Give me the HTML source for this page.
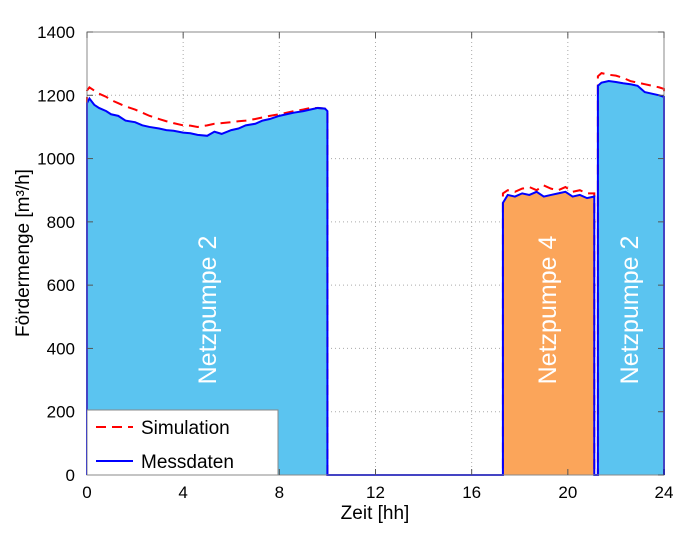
<!DOCTYPE html>
<html><head><meta charset="utf-8"><style>
body{margin:0;background:#fff;}
svg{display:block;font-family:"Liberation Sans",Arial,sans-serif;}
</style></head><body>
<svg id="c" width="677" height="540" viewBox="0 0 677 540"></svg>
<script>
const seg1T=[0,0.1,0.3,0.5,0.8,1,1.3,1.6,2,2.3,2.6,3,3.3,3.6,4,4.3,4.6,5,5.3,5.6,6,6.3,6.6,7,7.3,7.6,8,8.3,8.6,9,9.3,9.6,9.9,10.0];
const seg1M=[1175,1190,1170,1160,1150,1140,1135,1120,1115,1105,1100,1095,1090,1088,1082,1080,1075,1072,1085,1078,1090,1095,1105,1110,1120,1125,1135,1140,1145,1150,1155,1160,1158,1150];
const seg1S=[1215,1225,1215,1205,1195,1185,1175,1165,1155,1145,1135,1125,1118,1112,1105,1104,1100,1105,1110,1112,1115,1118,1120,1125,1130,1135,1140,1145,1150,1155,1160,1160,1158,1155];
const seg2T=[17.3,17.5,17.8,18.1,18.4,18.7,19,19.3,19.6,19.9,20.2,20.5,20.8,21.1];
const seg2M=[860,885,880,890,885,895,880,885,890,895,880,885,875,880];
const seg2S=[890,900,895,905,910,900,915,905,900,910,895,900,890,890];
const seg3T=[21.25,21.4,21.7,22,22.3,22.6,22.9,23.2,23.5,23.8,24];
const seg3M=[1230,1240,1245,1242,1238,1235,1230,1210,1205,1200,1195];
const seg3S=[1260,1270,1265,1262,1255,1245,1240,1235,1230,1225,1220];
const xTicks=[0,4,8,12,16,20,24];
const yTicks=[0,200,400,600,800,1000,1200,1400];
const NS="http://www.w3.org/2000/svg";
const svg=document.getElementById('c');
const X0=87,X1=664,Y0=475,Y1=32;
const sx=t=>X0+(X1-X0)*t/24;
const sy=v=>Y0-(Y0-Y1)*v/1400;
function el(tag,attrs,name,inter){const e=document.createElementNS(NS,tag);for(const k in attrs)e.setAttribute(k,attrs[k]);


svg.appendChild(e);return e;}
// grid
yTicks.forEach(v=>{el('line',{x1:X0,x2:X1,y1:sy(v),y2:sy(v),stroke:'#aaa','stroke-dasharray':'1,3','stroke-width':1},'y-grid-line');});
xTicks.forEach(t=>{el('line',{x1:sx(t),x2:sx(t),y1:Y0,y2:Y1,stroke:'#aaa','stroke-dasharray':'1,3','stroke-width':1},'x-grid-line');});
// fills
function area(T,M,color,name){let d=`M${sx(T[0])},${sy(0)}`;T.forEach((t,i)=>d+=` L${sx(t)},${sy(M[i])}`);d+=` L${sx(T[T.length-1])},${sy(0)} Z`;el('path',{d:d,fill:color},name);}
area(seg1T,seg1M,'#5bc4f0','area-pump2-morning');
area(seg2T,seg2M,'#fba55a','area-pump4');
area(seg3T,seg3M,'#5bc4f0','area-pump2-evening');
// lines
function line(segs,key,color,dash,name){let d='';
const full=[];full.push([0,null]);
let pts=[];
segs.forEach(s=>{s.T.forEach((t,i)=>pts.push([t,s[key][i]]));});
// build with drops to zero between segments
d=`M${sx(0)},${sy(0)}`;
segs.forEach((s,si)=>{d+=` L${sx(s.T[0])},${sy(0)}`;s.T.forEach((t,i)=>d+=` L${sx(t)},${sy(s[key][i])}`);d+=` L${sx(s.T[s.T.length-1])},${sy(0)}`;});
d+=` L${sx(24)},${sy(0)}`;
const a={d:d,fill:'none',stroke:color,'stroke-width':2};if(dash)a['stroke-dasharray']=dash;el('path',a,name);}
const segs=[{T:seg1T,M:seg1M,S:seg1S},{T:seg2T,M:seg2M,S:seg2S},{T:seg3T,M:seg3M,S:seg3S}];
line(segs,'S','#ff0000','10,6','simulation-line');
line(segs,'M','#0000ff',null,'measurement-line');
// axes box
el('rect',{x:X0,y:Y1,width:X1-X0,height:Y0-Y1,fill:'none',stroke:'#888','stroke-width':1},'plot-frame');
yTicks.forEach(v=>{el('line',{x1:X0,x2:X0+6,y1:sy(v),y2:sy(v),stroke:'#555'},'y-tick');el('line',{x1:X1,x2:X1-6,y1:sy(v),y2:sy(v),stroke:'#555'},'y-tick-right');
const t=el('text',{x:X0-12,y:sy(v)+6,'text-anchor':'end','font-size':17},'y-tick-label');t.textContent=v;});
xTicks.forEach(v=>{el('line',{x1:sx(v),x2:sx(v),y1:Y0,y2:Y0-6,stroke:'#555'},'x-tick');el('line',{x1:sx(v),x2:sx(v),y1:Y1,y2:Y1+6,stroke:'#555'},'x-tick-top');
const t=el('text',{x:sx(v),y:Y0+23,'text-anchor':'middle','font-size':17},'x-tick-label');t.textContent=v;});
let t=el('text',{x:375,y:519,'text-anchor':'middle','font-size':19},'x-axis-title');t.textContent='Zeit [hh]';
t=el('text',{x:0,y:0,'text-anchor':'middle','font-size':19,transform:'translate(29,253) rotate(-90)'},'y-axis-title');t.textContent='Fördermenge [m³/h]';
[[207,310,'Netzpumpe 2','label-pump2-morning'],[547,310,'Netzpumpe 4','label-pump4'],[629,310,'Netzpumpe 2','label-pump2-evening']].forEach(l=>{
const e=el('text',{x:0,y:0,'text-anchor':'middle','font-size':25,fill:'#fff',transform:`translate(${l[0]+9},${l[1]}) rotate(-90)`},l[3]);e.textContent=l[2];});
// legend
el('rect',{x:87,y:410,width:191,height:65,fill:'#fff',stroke:'#888'},'legend-box');
el('line',{x1:96,x2:133,y1:427,y2:427,stroke:'#f00','stroke-width':2,'stroke-dasharray':'10,6'},'legend-simulation-swatch');
t=el('text',{x:141,y:434,'font-size':19},'legend-simulation-label');t.textContent='Simulation';
el('line',{x1:96,x2:133,y1:461,y2:461,stroke:'#00f','stroke-width':2},'legend-measurement-swatch');
t=el('text',{x:141,y:468,'font-size':19},'legend-measurement-label');t.textContent='Messdaten';
</script>
</body></html>
